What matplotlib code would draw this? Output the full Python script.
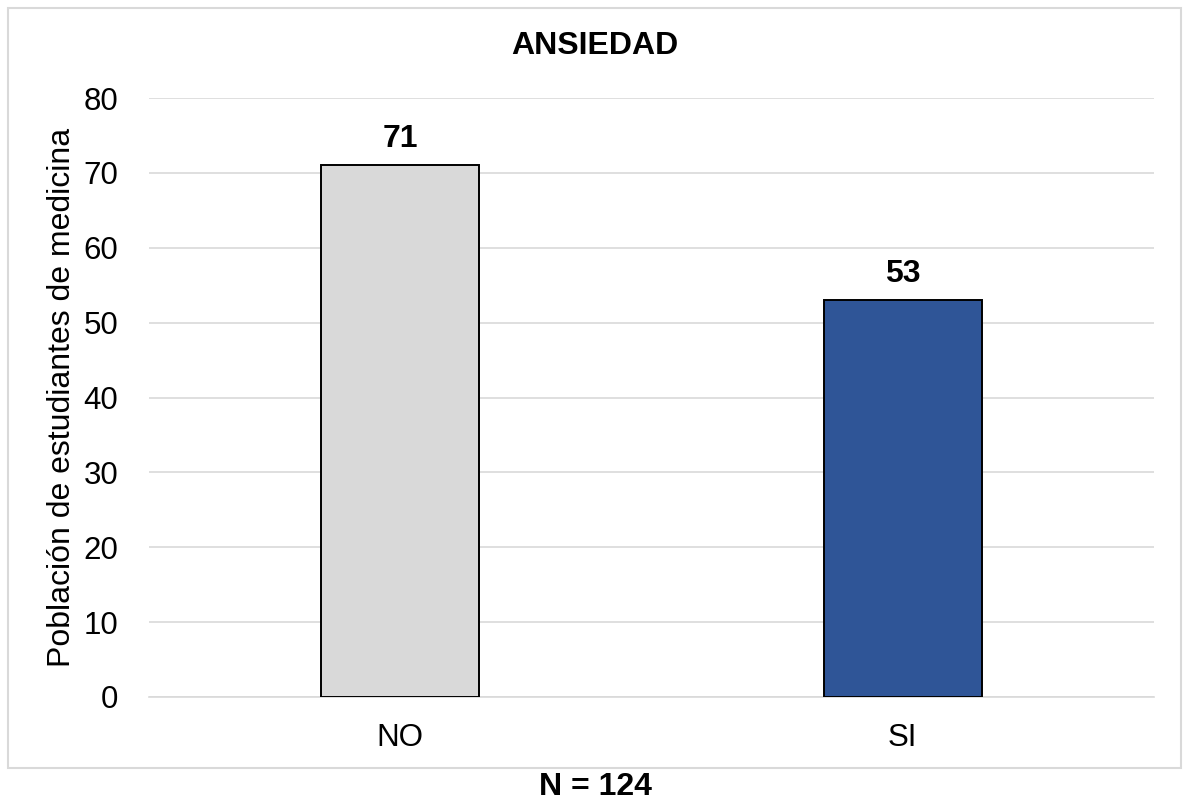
import matplotlib
matplotlib.use('Agg')
import matplotlib.pyplot as plt
from matplotlib.patches import Rectangle

categories = ['NO', 'SI']
counts = [71, 53]
bar_colors = ['#D9D9D9', '#2F5597']
yticks = [0, 10, 20, 30, 40, 50, 60, 70, 80]

plt.rcParams['font.family'] = ['Liberation Sans', 'DejaVu Sans']

fig = plt.figure(figsize=(11.83, 8.02), dpi=100)
ax = fig.add_axes([149 / 1183, 1 - 697 / 802, (1154 - 149) / 1183, (697 - 98) / 802])

x = range(len(categories))
bars = ax.bar(x, counts, width=0.315, color=bar_colors, edgecolor='black', linewidth=1.4, zorder=3)

for b, v in zip(bars, counts):
    ax.annotate(str(v), (b.get_x() + b.get_width() / 2, v), xytext=(0, 8),
                textcoords='offset points', ha='center', va='bottom',
                fontsize=23, fontweight='bold')

ax.set_xlim(-0.5, 1.5)
ax.set_ylim(0, 80)
ax.set_yticks(yticks)
ax.set_xticks(list(x))
ax.set_xticklabels(categories)
ax.yaxis.grid(True, color='#D9D9D9', linewidth=1.2, zorder=0)
ax.tick_params(axis='both', length=0, labelsize=22.5)
ax.tick_params(axis='y', pad=22)
ax.tick_params(axis='x', pad=19)
for s in ['top', 'right', 'left']:
    ax.spines[s].set_visible(False)
ax.spines['bottom'].set_color('#D9D9D9')
ax.spines['bottom'].set_linewidth(1.2)

ax.set_ylabel('Población de estudiantes de medicina', fontsize=23, labelpad=5)

fig.text(595 / 1183, 1 - 46 / 802, 'ANSIEDAD', ha='center', va='center',
         fontsize=23, fontweight='bold')
fig.text(595 / 1183, 1 - 787 / 802, 'N = 124', ha='center', va='center',
         fontsize=23, fontweight='bold')

# outer chart frame
fig.patches.append(Rectangle((7.5 / 1183, 1 - 768 / 802), (1181 - 7.5) / 1183, (768 - 7.5) / 802,
                             transform=fig.transFigure, fill=False,
                             edgecolor='#D9D9D9', linewidth=1.5))

fig.savefig('out.png', dpi=100)
